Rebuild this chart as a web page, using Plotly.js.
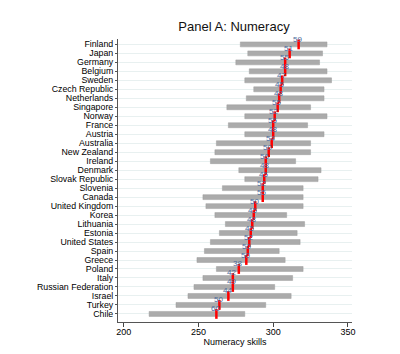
<!DOCTYPE html>
<html>
<head>
<meta charset="utf-8">
<script src="https://cdn.plot.ly/plotly-3.0.1.min.js"></script>
<style>html,body{margin:0;padding:0;background:#fff;}#chart{width:400px;height:354px;}</style>
</head>
<body>
<div id="chart"></div>
<script>
var countries = ["Finland","Japan","Germany","Belgium","Sweden","Czech Republic","Netherlands","Singapore","Norway","France","Austria","Australia","New Zealand","Ireland","Denmark","Slovak Republic","Slovenia","Canada","United Kingdom","Korea","Lithuania","Estonia","United States","Spain","Greece","Poland","Italy","Russian Federation","Israel","Turkey","Chile"];
var lowValues = [278,283,275,284,281,287,282,269,281,270,281,262,261,258,277,281,266,253,255,261,268,264,258,254,249,262,253,247,243,235,217];
var highValues = [336,333,331,336,339,334,334,325,336,323,334,325,325,315,332,330,320,320,320,309,321,316,318,304,308,320,313,301,312,295,281];
var meanValues = [317,311,308,308,306,305,304,303,301,300,300,299,297,295,295,294,293,293,288,287,286,285,284,283,282,277,273,273,270,264,262];
var pointLabels = ["59","51","55","48","47","45","48","55","52","55","48","54","50","56","48","45","52","55","50","45","48","45","52","50","50","38","42","49","44","50","60"];

var spans = lowValues.map(function(v,i){return highValues[i]-v;});

var barTrace = {
  type: 'bar', orientation: 'h',
  y: countries, x: spans, base: lowValues,
  width: 0.55,
  marker: {color: '#ababab', line: {color: '#9e9e9e', width: 0.5}},
  hoverinfo: 'skip', showlegend: false
};
var meanTrace = {
  type: 'scatter', mode: 'markers',
  y: countries, x: meanValues,
  marker: {symbol: 'line-ns', size: 7, line: {color: '#ff0000', width: 2.5}, color: '#ff0000'},
  showlegend: false, cliponaxis: false
};

var labelAnnotations = countries.map(function(c,i){
  return {x: meanValues[i], y: c, xref: 'x', yref: 'y', text: pointLabels[i],
    showarrow: false, xshift: -1, yshift: 5,
    font: {family: 'Liberation Sans, Arial, sans-serif', size: 8, color: '#4a6a9c'}};
});

var layout = {
  width: 400, height: 354,
  margin: {l: 118, r: 48, t: 39, b: 32},
  paper_bgcolor: '#ffffff', plot_bgcolor: '#ffffff',
  font: {family: 'Liberation Sans, Arial, sans-serif', color: '#000000', size: 9},
  title: {text: 'Panel A: Numeracy', x: 0.585, xanchor: 'center', y: 0.925, yanchor: 'middle', font: {size: 13, color: '#111111'}},
  xaxis: {
    range: [196.2, 352.7], tickvals: [200,250,300,350], ticktext: ['200','250','300','350'],
    ticks: 'outside', ticklen: 4, tickcolor: '#444444',
    showline: true, linecolor: '#555555', linewidth: 1,
    showgrid: false, zeroline: false,
    tickfont: {size: 9}, ticklabelstandoff: -3,
    title: {text: 'Numeracy skills', font: {size: 9}, standoff: 1}
  },
  yaxis: {
    type: 'category', categoryorder: 'array', categoryarray: countries,
    tickmode: 'array', tickvals: countries, ticktext: countries,
    range: [30.9, -0.6],
    ticks: 'outside', ticklen: 2, tickcolor: '#555555',
    showline: true, linecolor: '#555555', linewidth: 1,
    showgrid: true, gridcolor: '#e8f0f0', gridwidth: 1,
    zeroline: false, tickfont: {size: 8.8}
  },
  annotations: labelAnnotations,
  bargap: 0.45
};

Plotly.newPlot('chart', [barTrace, meanTrace], layout, {staticPlot: true, displayModeBar: false});
</script>
</body>
</html>
